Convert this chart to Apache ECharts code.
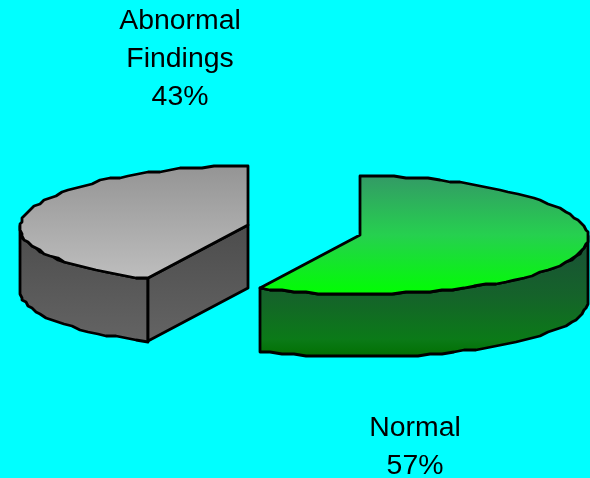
<!DOCTYPE html>
<html>
<head>
<meta charset="utf-8">
<style>html,body{margin:0;padding:0;background:#00ffff}#chart{width:590px;height:478px}</style>
<script src="https://cdn.jsdelivr.net/npm/echarts@6/dist/echarts.min.js"></script>
</head>
<body>
<div id="chart"></div>
<script>
// Pie shares, in percent, clockwise from twelve o'clock
const categories = ['Normal', 'Abnormal\nFindings'];
const values = [57, 43];

const total = values.reduce((a, b) => a + b, 0);
const RX = 228, RY = 59, DEPTH = 63, FORESHORTEN = 0.04, GRID = 2, STEP = 3;

// Per-slice layout: centre of the exploded wedge, label anchor, fills
const looks = [
  {
    cx: 360, cy: 235, lx: 415, ly: 447,
    top: [[0, '#339966'], [0.5, '#26d04f'], [1, '#00ff00']],
    wall: [[0, '#1a4f38'], [0.5, '#15632a'], [0.85, '#0b7a18'], [1, '#007000']]
  },
  {
    cx: 248, cy: 225, lx: 180, ly: 59,
    top: [[0, '#949494'], [1, '#bebebe']],
    wall: [[0, '#4c4c4c'], [1, '#646464']]
  }
];

function gradient(stops) {
  return {
    type: 'linear', x: 0, y: 0, x2: 0, y2: 1,
    colorStops: stops.map(s => ({ offset: s[0], color: s[1] }))
  };
}

// Rim point at a clockwise angle (degrees from the top) on the tilted disc
function rim(look, deg, drop) {
  const t = deg * Math.PI / 180;
  const s = Math.sin(t), c = Math.cos(t);
  const x = look.cx + RX * s * (1 - FORESHORTEN * c);
  const y = look.cy - RY * c + drop;
  return [Math.round(x / GRID) * GRID, Math.round(y / GRID) * GRID];
}

function arc(look, from, to, drop) {
  const pts = [];
  const n = Math.max(1, Math.round(Math.abs(to - from) / STEP));
  for (let i = 0; i <= n; i++) {
    pts.push(rim(look, from + (to - from) * i / n, drop));
  }
  return pts;
}

function polygon(points, fill) {
  return {
    type: 'polygon',
    shape: { points },
    style: { fill, stroke: '#000', lineWidth: 2.8, lineJoin: 'round' }
  };
}

function renderSlice(params, api) {
  const i = params.dataIndex;
  const look = looks[i];
  const before = values.slice(0, i).reduce((a, b) => a + b, 0);
  const a0 = before / total * 360;
  const a1 = a0 + api.value(0) / total * 360;
  const centre = [look.cx, look.cy];
  const children = [];

  // Outer wall: only the part of the rim that faces the viewer
  const wallFrom = Math.max(a0, 90), wallTo = Math.min(a1, 270);
  if (wallTo > wallFrom) {
    const upper = arc(look, wallFrom, wallTo, 0);
    const lower = arc(look, wallTo, wallFrom, DEPTH);
    children.push(polygon(upper.concat(lower), gradient(look.wall)));
  }

  // Cut face that turns toward the viewer on the left-hand wedge
  if (a0 > 90 && a0 < 270) {
    const v = rim(look, a0, 0);
    children.push(polygon([
      centre, v, [v[0], v[1] + DEPTH], [centre[0], centre[1] + DEPTH]
    ], gradient(look.wall)));
  }

  // Top face
  const topPts = [centre].concat(arc(look, a0, a1, 0));
  children.push(polygon(topPts, gradient(look.top)));

  // Label
  children.push({
    type: 'text',
    style: {
      x: look.lx, y: look.ly,
      text: categories[i] + '\n' + api.value(0) + '%',
      fill: '#000',
      font: '28.4px "Liberation Sans", Arial, sans-serif',
      lineHeight: 38,
      align: 'center',
      verticalAlign: 'middle'
    }
  });

  return { type: 'group', children };
}

const chart = echarts.init(document.getElementById('chart'), null, { renderer: 'canvas' });
chart.setOption({
  animation: false,
  backgroundColor: '#00ffff',
  series: [{
    type: 'custom',
    coordinateSystem: 'none',
    renderItem: renderSlice,
    data: values.map(v => [v]),
    silent: true
  }]
});
</script>
</body>
</html>
